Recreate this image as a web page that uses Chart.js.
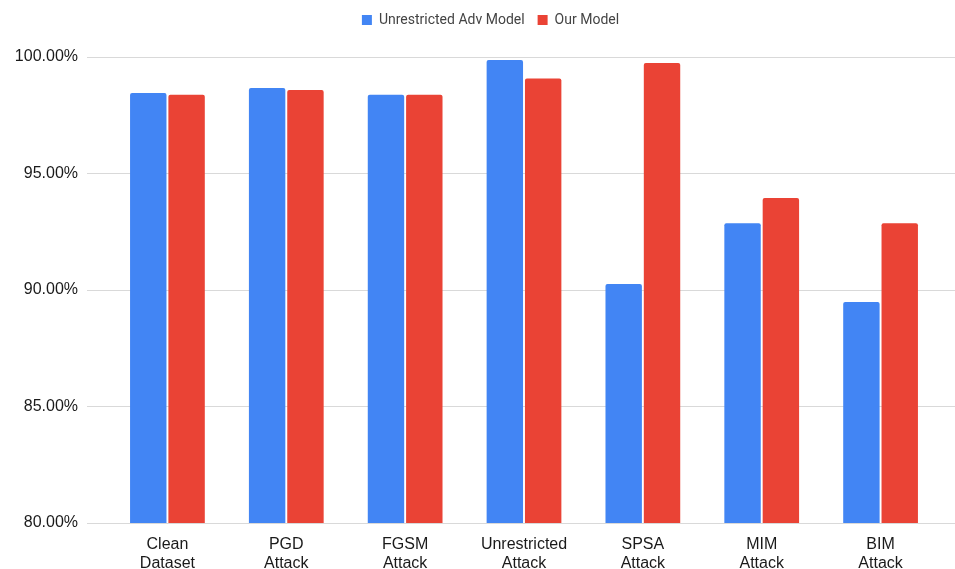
<!DOCTYPE html>
<html>
<head>
<meta charset="utf-8">
<script src="https://cdn.jsdelivr.net/npm/chart.js@4"></script>
<style>
  html, body { margin: 0; padding: 0; background: #ffffff; }
  #wrap { width: 955px; height: 569px; }
</style>
</head>
<body>
<div id="wrap"><canvas id="chart" width="955" height="569"></canvas></div>
<script>
// Accuracy (%) of each model under each evaluation setting
const categories = [
  ['Clean', 'Dataset'],
  ['PGD', 'Attack'],
  ['FGSM', 'Attack'],
  ['Unrestricted', 'Attack'],
  ['SPSA', 'Attack'],
  ['MIM', 'Attack'],
  ['BIM', 'Attack']
];
const seriesNames = ['Unrestricted Adv Model', 'Our Model'];
const unrestrictedAdv = [98.45, 98.67, 98.38, 99.87, 90.26, 92.86, 89.48];
const ourModel = [98.38, 98.58, 98.38, 99.08, 99.74, 93.95, 92.86];
const yTicks = [80, 85, 90, 95, 100];

const AXIS_FONT = '"Liberation Sans", Arial, sans-serif';
const LEGEND_FONT = 'Roboto, "Liberation Sans", Arial, sans-serif';
const GRID = '#d9d9d9';

// Same pixel snapping Chart.js uses for 1px lines
const snap = p => Math.round(p - 0.5) + 0.5;

// Carry the horizontal gridlines on to the right edge of the canvas
const gridToEdge = {
  id: 'gridToEdge',
  beforeDatasetsDraw(chart) {
    const { ctx, chartArea, scales } = chart;
    ctx.save();
    ctx.strokeStyle = GRID;
    ctx.lineWidth = 1;
    scales.y.ticks.forEach(t => {
      const y = snap(scales.y.getPixelForValue(t.value));
      ctx.beginPath();
      ctx.moveTo(chartArea.right, y);
      ctx.lineTo(chart.width, y);
      ctx.stroke();
    });
    ctx.restore();
  }
};

// Leave a gap between the legend and the plot, and centre the legend over the plot
const legendPlacement = {
  id: 'legendPlacement',
  afterInit(chart) {
    const legend = chart.legend;
    const fit = legend.fit;
    legend.fit = function () {
      fit.call(this);
      this.height = 57;
    };
  },
  afterLayout(chart) {
    const legend = chart.legend;
    const shift = 13;
    legend.left += shift;
    legend.right += shift;
  }
};

new Chart(document.getElementById('chart'), {
  type: 'bar',
  data: {
    labels: categories,
    datasets: [
      {
        label: seriesNames[0],
        data: unrestrictedAdv,
        backgroundColor: '#4285F4'
      },
      {
        label: seriesNames[1],
        data: ourModel,
        backgroundColor: '#EA4335'
      }
    ]
  },
  options: {
    responsive: false,
    animation: false,
    devicePixelRatio: 1,
    layout: { padding: { left: 15, right: 15, top: 0, bottom: 0 } },
    datasets: {
      bar: {
        categoryPercentage: 0.645,
        barPercentage: 0.95,
        borderRadius: { topLeft: 2, topRight: 2, bottomLeft: 0, bottomRight: 0 },
        borderSkipped: 'start'
      }
    },
    plugins: {
      legend: {
        position: 'top',
        align: 'center',
        labels: {
          boxWidth: 10,
          boxHeight: 10,
          padding: 13,
          color: '#444444',
          font: { family: LEGEND_FONT, size: 14 }
        }
      },
      tooltip: { enabled: false }
    },
    scales: {
      x: {
        grid: { display: false, drawTicks: false },
        border: { display: false },
        ticks: {
          color: '#1a1a1a',
          padding: 12,
          maxRotation: 0,
          autoSkip: false,
          font: { family: AXIS_FONT, size: 16, lineHeight: 1.2 }
        },
        afterFit(scale) { scale.height = 46; }
      },
      y: {
        min: yTicks[0],
        max: yTicks[yTicks.length - 1],
        afterBuildTicks(scale) { scale.ticks = yTicks.map(v => ({ value: v })); },
        grid: {
          color: GRID,
          lineWidth: 1,
          drawTicks: true,
          tickLength: 21,
          tickColor: GRID
        },
        border: { display: false },
        ticks: {
          color: '#1a1a1a',
          padding: 9,
          font: { family: AXIS_FONT, size: 16 },
          callback: v => v.toFixed(2) + '%'
        },
        afterFit(scale) { scale.width = 93; }
      }
    }
  },
  plugins: [gridToEdge, legendPlacement]
});
</script>
</body>
</html>
